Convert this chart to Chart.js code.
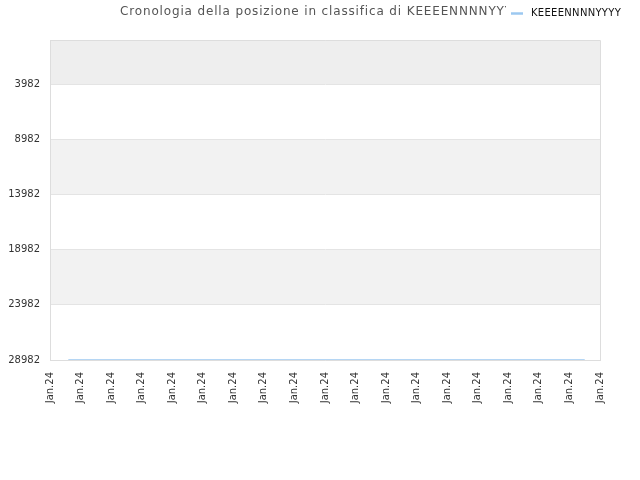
<!DOCTYPE html>
<html>
<head>
<meta charset="utf-8">
<script src="https://cdn.jsdelivr.net/npm/chart.js@4"></script>
<style>html,body{margin:0;padding:0;background:#fff;}#wrap{width:640px;height:480px;}</style>
</head>
<body>
<div id="wrap"><canvas id="c" width="640" height="480"></canvas></div>
<script>
const titleText = "Cronologia della posizione in classifica di KEEEENNNNYYYY";
const seriesName = "KEEEENNNNYYYY";
const xTickLabels = ["Jan.24","Jan.24","Jan.24","Jan.24","Jan.24","Jan.24","Jan.24","Jan.24","Jan.24","Jan.24","Jan.24","Jan.24","Jan.24","Jan.24","Jan.24","Jan.24","Jan.24","Jan.24","Jan.24"];
const yTickValues = [3982, 8982, 13982, 18982, 23982, 28982];
const xValues = [0.6, 17.5];
const rankValues = [28982, 28982];
const yMin = -18;
const yMax = 28982;

const bandPlugin = {
  id: 'bands',
  beforeDraw(chart) {
    const {ctx, chartArea: a, scales: {y}} = chart;
    ctx.save();
    const edges = [yMin].concat(yTickValues);
    const colors = ['#eeeeee', '#ffffff', '#f2f2f2', '#ffffff', '#f2f2f2', '#ffffff'];
    for (let i = 0; i < edges.length - 1; i++) {
      const y0 = y.getPixelForValue(edges[i]);
      const y1 = y.getPixelForValue(edges[i + 1]);
      ctx.fillStyle = colors[i];
      ctx.fillRect(a.left, y0, a.right - a.left, y1 - y0);
    }
    ctx.restore();
  },
  afterDraw(chart) {
    const ctx = chart.ctx;
    ctx.save();
    ctx.font = '12px "DejaVu Sans"';
    if ('letterSpacing' in ctx) ctx.letterSpacing = '0.85px';
    ctx.fillStyle = '#555555';
    ctx.textBaseline = 'middle';
    ctx.textAlign = 'left';
    ctx.fillText(titleText, 120, 12);
    ctx.fillStyle = '#ffffff';
    ctx.fillRect(506, 2, 134, 20);
    ctx.strokeStyle = '#9cc8f0';
    ctx.lineWidth = 2.5;
    ctx.beginPath();
    ctx.moveTo(511, 13.5);
    ctx.lineTo(523, 13.5);
    ctx.stroke();
    if ('letterSpacing' in ctx) ctx.letterSpacing = '0.3px';
    ctx.font = '10px "DejaVu Sans"';
    ctx.fillStyle = '#111111';
    ctx.fillText(seriesName, 531, 13);
    ctx.restore();
  }
};

new Chart(document.getElementById('c'), {
  type: 'line',
  data: {
    datasets: [{
      label: seriesName,
      data: xValues.map((x, i) => ({x: x, y: rankValues[i]})),
      borderColor: '#9cc8f0',
      backgroundColor: '#9cc8f0',
      borderWidth: 1.5,
      pointRadius: 0,
      tension: 0
    }]
  },
  options: {
    responsive: false,
    animation: false,
    layout: {padding: {top: 40, right: 40, left: 0, bottom: 0}},
    plugins: {legend: {display: false}, title: {display: false}, tooltip: {enabled: false}},
    scales: {
      x: {
        type: 'linear',
        min: 0,
        max: xTickLabels.length - 1,
        afterBuildTicks(s) { s.ticks = xTickLabels.map((_, i) => ({value: i})); },
        afterFit(s) { s.height = 120; },
        ticks: {
          autoSkip: false,
          maxRotation: 90,
          minRotation: 90,
          color: '#333333',
          font: {size: 10, family: 'DejaVu Sans'},
          padding: 12,
          callback: (v, i) => xTickLabels[i]
        },
        grid: {display: false, drawTicks: false},
        border: {display: true, color: '#dddddd'}
      },
      y: {
        reverse: true,
        min: yMin,
        max: yMax,
        afterBuildTicks(s) { s.ticks = yTickValues.map(v => ({value: v})); },
        afterFit(s) { s.width = 50; },
        ticks: {
          color: '#333333',
          font: {size: 10, family: 'DejaVu Sans'},
          padding: 10,
          callback: v => String(v)
        },
        grid: {color: '#e4e4e4', drawTicks: false},
        border: {display: true, color: '#dddddd'}
      }
    }
  },
  plugins: [bandPlugin, {
    id: 'frame',
    afterDatasetsDraw(chart) {
      const {ctx, chartArea: a} = chart;
      ctx.save();
      ctx.strokeStyle = '#dddddd';
      ctx.lineWidth = 1;
      ctx.beginPath();
      ctx.moveTo(a.left, a.top + 0.5);
      ctx.lineTo(a.right + 0.5, a.top + 0.5);
      ctx.lineTo(a.right + 0.5, a.bottom);
      ctx.stroke();
      ctx.restore();
    }
  }]
});
</script>
</body>
</html>
